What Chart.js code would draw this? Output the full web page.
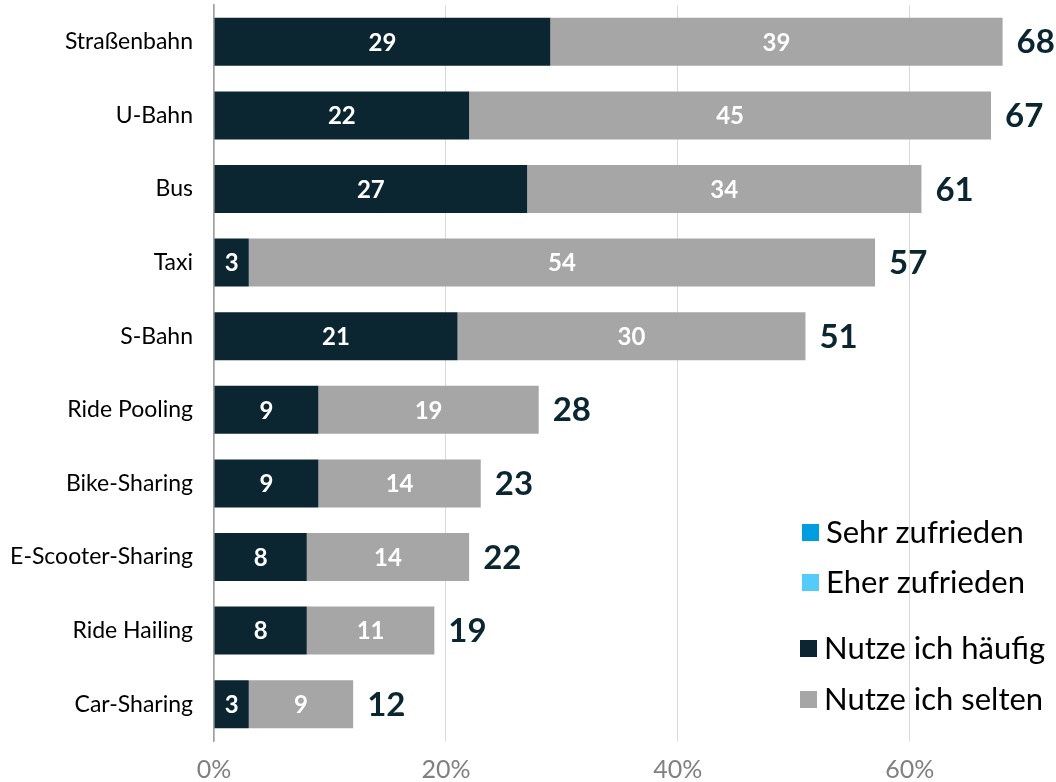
<!DOCTYPE html>
<html>
<head>
<meta charset="utf-8">
<script src="https://cdn.jsdelivr.net/npm/chart.js@4"></script>
<style>
  html, body { margin: 0; padding: 0; background: #fff; }
  #wrap { width: 1056px; height: 782px; position: relative; }
</style>
</head>
<body>
<div id="wrap"><canvas id="chart"></canvas></div>
<script>
const categories = ['Straßenbahn', 'U-Bahn', 'Bus', 'Taxi', 'S-Bahn', 'Ride Pooling', 'Bike-Sharing', 'E-Scooter-Sharing', 'Ride Hailing', 'Car-Sharing']
const oftenValues = [29, 22, 27, 3, 21, 9, 9, 8, 8, 3]
const rarelyValues = [39, 45, 34, 54, 30, 19, 14, 14, 11, 9]
const totals = [68, 67, 61, 57, 51, 28, 23, 22, 19, 12]
const xTicks = [0, 20, 40, 60]

const FONT = 'Lato, "Noto Sans", sans-serif'

// numbers inside the bars + total at the end
const labelPlugin = {
  id: 'barLabels',
  afterDatasetsDraw(chart) {
    const ctx = chart.ctx
    ctx.save()
    ctx.textBaseline = 'middle'
    chart.data.datasets.forEach((ds, i) => {
      if (!ds.showValues) return
      const meta = chart.getDatasetMeta(i)
      meta.data.forEach((bar, j) => {
        ctx.fillStyle = '#ffffff'
        ctx.font = 'bold 24px ' + FONT
        ctx.textAlign = 'center'
        ctx.fillText(ds.data[j], (bar.x + bar.base) / 2, bar.y + 1)
        if (ds.showTotal) {
          ctx.fillStyle = '#0b2630'
          ctx.font = 'bold 33px ' + FONT
          ctx.textAlign = 'left'
          ctx.fillText(totals[j], bar.x + 14, bar.y + 1)
        }
      })
    })
    ctx.restore()
  }
}

// legend drawn by hand (extra gap between the two groups)
const legendPlugin = {
  id: 'sideLegend',
  afterDraw(chart) {
    const ctx = chart.ctx
    const rows = [532, 582, 648, 699]
    const xs = [802, 802, 800, 800]
    ctx.save()
    ctx.font = '31px ' + FONT
    ctx.textBaseline = 'middle'
    ctx.textAlign = 'left'
    chart.data.datasets.forEach((ds) => {
      const row = ds.legendRow
      ctx.fillStyle = ds.backgroundColor
      ctx.fillRect(xs[row], rows[row] - 8, 17, 17)
      ctx.fillStyle = '#000000'
      ctx.fillText(ds.label, xs[row] + 24, rows[row] + 1)
    })
    ctx.restore()
  }
}

new Chart(document.getElementById('chart'), {
  type: 'bar',
  data: {
    labels: categories,
    datasets: [
      { label: 'Nutze ich häufig', data: oftenValues, backgroundColor: '#0b2630', showValues: true, legendRow: 2 },
      { label: 'Nutze ich selten', data: rarelyValues, backgroundColor: '#a6a6a6', showValues: true, showTotal: true, legendRow: 3 },
      { label: 'Sehr zufrieden', data: [], backgroundColor: '#009ee0', legendRow: 0 },
      { label: 'Eher zufrieden', data: [], backgroundColor: '#55cbfa', legendRow: 1 }
    ]
  },
  options: {
    indexAxis: 'y',
    responsive: true,
    maintainAspectRatio: false,
    animation: false,
    layout: { padding: { top: 5, right: 7, left: 0, bottom: 0 } },
    datasets: {
      bar: { categoryPercentage: 1, barPercentage: 0.652 }
    },
    scales: {
      x: {
        stacked: true,
        min: 0,
        max: 72,
        afterFit(scale) {
          scale.height = 41
          scale.paddingLeft = 0
          scale.paddingRight = 0
        },
        afterBuildTicks(scale) { scale.ticks = xTicks.map(v => ({ value: v })) },
        grid: { color: '#d9d9d9', lineWidth: 1, tickLength: 0 },
        border: { display: false },
        ticks: {
          padding: 14,
          color: '#808080',
          font: { family: FONT, size: 25 },
          callback: v => v + '%'
        }
      },
      y: {
        stacked: true,
        afterFit(scale) {
          scale.width = 214
          scale.paddingTop = 0
          scale.paddingBottom = 0
        },
        grid: { display: false },
        border: { display: true, color: '#a0a0a0', width: 1.5 },
        ticks: {
          padding: 13,
          color: '#000000',
          font: { family: FONT, size: 23 }
        }
      }
    },
    plugins: {
      legend: { display: false },
      tooltip: { enabled: false }
    }
  },
  plugins: [labelPlugin, legendPlugin]
})
</script>
</body>
</html>
